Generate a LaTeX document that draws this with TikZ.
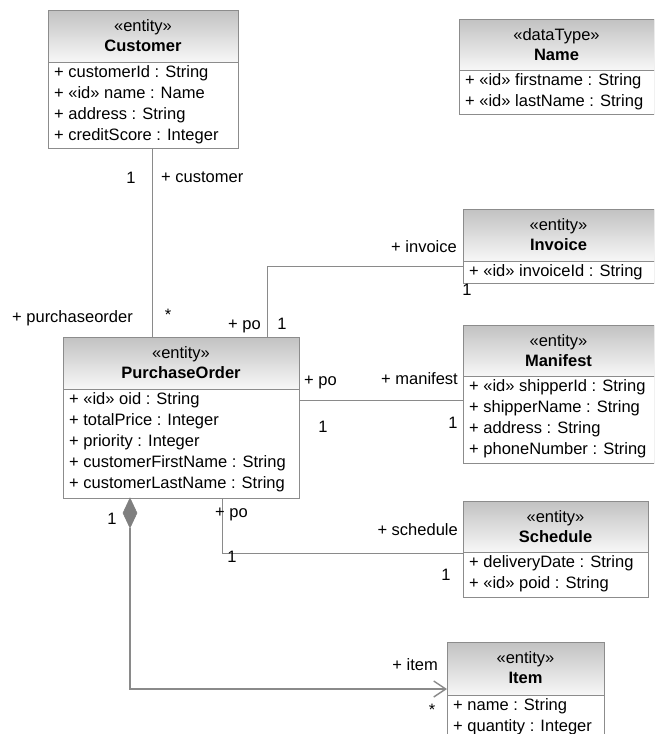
\documentclass[tikz,border=0pt]{standalone}
\usepackage{fontspec}
\setmainfont{Liberation Sans}
\usetikzlibrary{arrows.meta,shapes.geometric,calc}
\definecolor{boxline}{HTML}{8C8C8C}
\definecolor{connline}{HTML}{8A8A8A}
\definecolor{hdtop}{HTML}{C2C2C2}
\definecolor{hdbot}{HTML}{F7F7F7}
\definecolor{diacol}{HTML}{7F7F7F}
\newcommand\umlfs{\fontsize{16.5}{21}\selectfont}
\newcommand\umlclass[9]{%
  \node[hdr, minimum width=#4, minimum height=#5] (#1h) at (#2,#3) {};
  \node[bdy, minimum width=#4, minimum height=#6] (#1b) at (#1h.south west) {};
  \node[txt] (#1s) at ($(#1h.north)+(0,17)$) {«#7»};
  \node[txt, font=\umlfs\bfseries] (#1n) at ($(#1h.north)+(0,37)$) {#8};
  \foreach \r [count=\i] in {#9} {\node[txt, anchor=west] (#1r\i) at ($(#1b.north west)+(6,11+21*\i-21)$) {\r};}%
}
\begin{document}
\begin{tikzpicture}[x=1pt,y=-1pt,
  hdr/.style={draw=boxline, line width=1pt, top color=hdtop, bottom color=hdbot, anchor=north west, inner sep=0pt, outer sep=0pt},
  bdy/.style={draw=boxline, line width=1pt, fill=white, anchor=north west, inner sep=0pt, outer sep=0pt},
  txt/.style={font=\umlfs, inner sep=0pt, text height=12pt, text depth=4pt},
  lbl/.style={font=\umlfs, inner sep=0pt},
  conn/.style={draw=connline, line width=1pt},
  comp/.style={draw=connline, line width=1.4pt}
]
\useasboundingbox (0,0) rectangle (654,734);
\clip (0,0) rectangle (654,734);

\umlclass{cust}{48}{10}{190}{52}{86}{entity}{Customer}{{+ customerId : String},{+ «id» name : Name},{+ address : String},{+ creditScore : Integer}}
\umlclass{name}{459}{19}{195}{51}{44}{dataType}{Name}{{+ «id» firstname : String},{+ «id» lastName : String}}
\umlclass{inv}{463}{209}{191}{52}{22}{entity}{Invoice}{{+ «id» invoiceId : String}}
\umlclass{po}{63}{337}{236}{52}{109}{entity}{PurchaseOrder}{{+ «id» oid : String},{+ totalPrice : Integer},{+ priority : Integer},{+ customerFirstName : String},{+ customerLastName : String}}
\umlclass{man}{463}{325}{191}{51}{87}{entity}{Manifest}{{+ «id» shipperId : String},{+ shipperName : String},{+ address : String},{+ phoneNumber : String}}
\umlclass{sch}{463}{501}{185}{51}{45}{entity}{Schedule}{{+ deliveryDate : String},{+ «id» poid : String}}
\umlclass{item}{447}{642}{157}{53}{50}{entity}{Item}{{+ name : String},{+ quantity : Integer}}

\coordinate (k1) at (152,0);
\coordinate (k2) at (267,266);
\coordinate (ky) at (0,400);
\coordinate (k3) at (222,553);
\coordinate (k4) at (130,689);

% Customer - PurchaseOrder
\draw[conn] (custb.south -| k1) -- (poh.north -| k1);
% PurchaseOrder - Invoice
\draw[conn] (poh.north -| k2) |- (invh.west |- k2);
% PurchaseOrder - Manifest
\draw[conn] (pob.east |- ky) -- (manb.west |- ky);
% PurchaseOrder - Schedule
\draw[conn] (pob.south -| k3) |- (schb.west |- k3);
% PurchaseOrder - Item (composition)
\node[diamond, fill=diacol, draw=diacol, line width=0.5pt, minimum width=14, minimum height=30, inner sep=0pt, outer sep=0pt, anchor=north] (dia) at (pob.south -| k4) {};
\draw[comp, -{Straight Barb[length=12pt,width=16pt]}] (dia.south) |- (itemh.west |- k4);

% labels
\node[lbl, anchor=base] (m1) at (131,183) {1};
\node[lbl, anchor=base west] (r1) at (161,182) {+ customer};
\node[lbl, anchor=base west] (r2) at (12,322) {+ purchaseorder};
\node[lbl] (m2) at (168,315) {*};
\node[lbl, anchor=base east] (r3) at (261,329) {+ po};
\node[lbl, anchor=base] (m3) at (282,329) {1};
\node[lbl, anchor=base east] (r4) at (457,252) {+ invoice};
\node[lbl, anchor=base] (m4) at (467,295) {1};
\node[lbl, anchor=base west] (r5) at (304,385) {+ po};
\node[lbl, anchor=base east] (r6) at (458,384) {+ manifest};
\node[lbl, anchor=base] (m5) at (323,432) {1};
\node[lbl, anchor=base] (m6) at (453,428) {1};
\node[lbl, anchor=base west] (r7) at (215,517) {+ po};
\node[lbl, anchor=base] (m7) at (232,562) {1};
\node[lbl, anchor=base east] (r8) at (458,535) {+ schedule};
\node[lbl, anchor=base] (m8) at (446,580) {1};
\node[lbl, anchor=base] (m9) at (112,524) {1};
\node[lbl, anchor=base east] (r9) at (438,670) {+ item};
\node[lbl] (m10) at (432,710) {*};
\end{tikzpicture}
\end{document}
